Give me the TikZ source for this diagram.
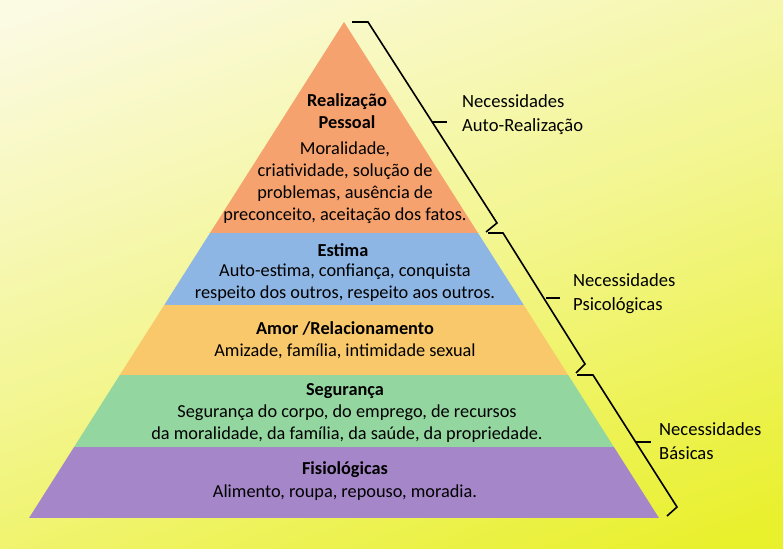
\documentclass[tikz,border=0pt]{standalone}
\usepackage{fontspec}
\setmainfont{Carlito}
\usetikzlibrary{positioning}
\definecolor{bgtop}{HTML}{FBFAE2}
\definecolor{bgbot}{HTML}{E9F02C}
\definecolor{realiz}{HTML}{F5A26F}
\definecolor{estima}{HTML}{8EB6E4}
\definecolor{amor}{HTML}{F9C86A}
\definecolor{segur}{HTML}{93D6A0}
\definecolor{fisio}{HTML}{A586C8}

\begin{document}
\begin{tikzpicture}[x=1pt,y=-1pt,font=\fontsize{18.3}{22}\selectfont]
\tikzstyle{title}=[font=\fontsize{18.3}{22}\selectfont\bfseries,align=center,inner sep=0pt]
\tikzstyle{body}=[align=center,inner sep=0pt]
\tikzstyle{needs}=[anchor=west,align=left,inner sep=0pt,font=\fontsize{18.6}{24}\selectfont]
\tikzstyle{brace}=[line width=1.6pt,line join=miter]

\useasboundingbox (0,0) rectangle (783,548);
% background
\shade[top color=bgtop,bottom color=bgbot,middle color=bgtop!55!bgbot,shading angle=20]
  (-60,-60) rectangle (843,608);

% pyramid corners
\coordinate (apex) at (344,22);
\coordinate (baseL) at (29,518);
\coordinate (baseR) at (659,518);

\begin{scope}
\clip (apex) -- (baseR) -- (baseL) -- cycle;
\fill[realiz] (0,0) rectangle (783,233);
\fill[estima] (0,233) rectangle (783,305);
\fill[amor] (0,305) rectangle (783,375);
\fill[segur] (0,375) rectangle (783,447);
\fill[fisio] (0,447) rectangle (783,518);
\end{scope}

% layer texts
\node[title] (realT) at (347,111) {Realização\\Pessoal};
\node[body] (realB) at (345,183) {Moralidade,\\criatividade, solução de\\problemas, ausência de\\preconceito, aceitação dos fatos.};
\node[title] (estT) at (343,250) {Estima};
\node[body] (estB) at (345,283) {Auto-estima, confiança, conquista\\respeito dos outros, respeito aos outros.};
\node[title] (amorT) at (345,328) {Amor /Relacionamento};
\node[body] (amorB) at (345,351) {Amizade, família, intimidade sexual};
\node[title] (segT) at (345,391) {Segurança};
\node[body] (segB) at (347,424) {Segurança do corpo, do emprego, de recursos\\da moralidade, da família, da saúde, da propriedade.};
\node[title] (fisT) at (345,470) {Fisiológicas};
\node[body] (fisB) at (345,493) {Alimento, roupa, repouso, moradia.};

% braces
\coordinate (b1a) at (352,22);
\coordinate (b1b) at (368,22);
\coordinate (b1c) at (497,223);
\coordinate (b1d) at (486,232);
\coordinate (b1m) at (432,122);
\coordinate (b1t) at (447,122);
\draw[brace] (b1a) -- (b1b) -- (b1c) -- (b1d);
\draw[brace] (b1m) -- (b1t);

\coordinate (b2a) at (488,233);
\coordinate (b2b) at (503,233);
\coordinate (b2c) at (585,364);
\coordinate (b2d) at (576,373);
\coordinate (b2m) at (546,298);
\coordinate (b2t) at (560,298);
\draw[brace] (b2a) -- (b2b) -- (b2c) -- (b2d);
\draw[brace] (b2m) -- (b2t);

\coordinate (b3a) at (577,375);
\coordinate (b3b) at (593,375);
\coordinate (b3c) at (677,507);
\coordinate (b3d) at (667,516);
\coordinate (b3m) at (636,442);
\coordinate (b3t) at (651,442);
\draw[brace] (b3a) -- (b3b) -- (b3c) -- (b3d);
\draw[brace] (b3m) -- (b3t);

% labels
\node[needs] (nAuto) at (462,115) {Necessidades\\Auto-Realização};
\node[needs] (nPsi) at (573,294) {Necessidades\\Psicológicas};
\node[needs] (nBas) at (659,441) {Necessidades\\Básicas};
\end{tikzpicture}
\end{document}
